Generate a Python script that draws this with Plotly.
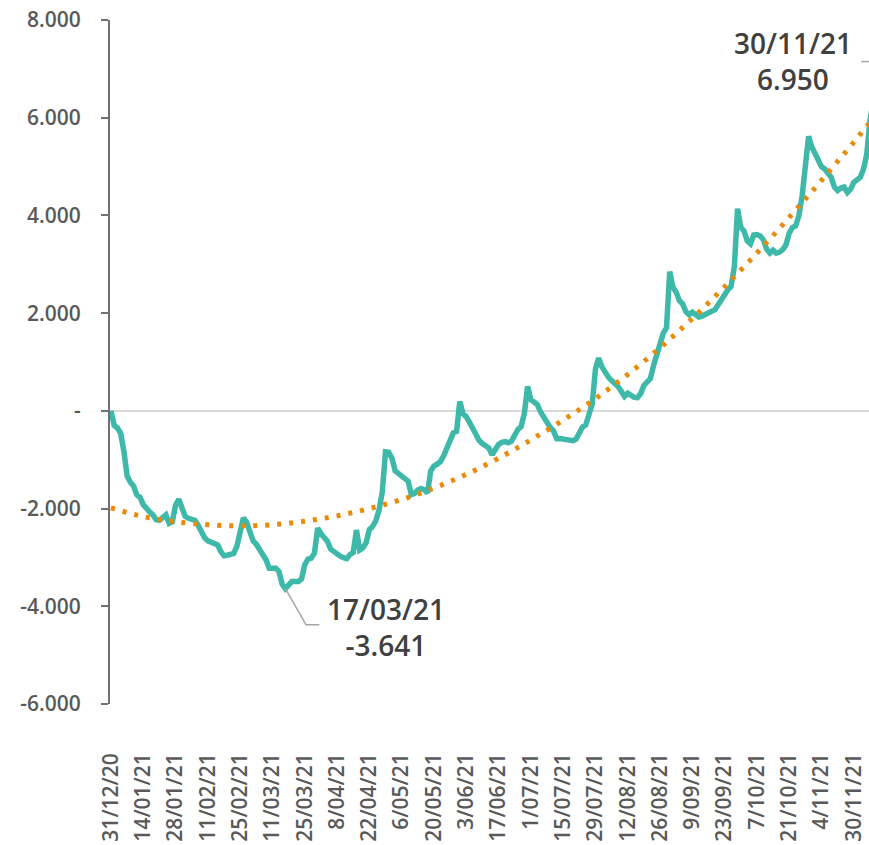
import plotly.graph_objects as go

# ---- data ----
tick_labels = ["31/12/20", "14/01/21", "28/01/21", "11/02/21", "25/02/21", "11/03/21",
               "25/03/21", "8/04/21", "22/04/21", "6/05/21", "20/05/21", "3/06/21",
               "17/06/21", "1/07/21", "15/07/21", "29/07/21", "12/08/21", "26/08/21",
               "9/09/21", "23/09/21", "7/10/21", "21/10/21", "4/11/21", "30/11/21"]

# cumulative series, one value per trading day (index 0 = 31/12/20)
series = [
    0, -300, -350, -460, -830, -1330, -1460, -1540, -1720, -1770,
    -1920, -2020, -2070, -2130, -2230, -2240, -2200, -2130, -2300, -2270,
    -1930, -1810, -1990, -2160, -2200, -2215, -2240, -2345, -2480, -2600,
    -2660, -2696, -2720, -2743, -2880, -2965, -2955, -2945, -2918, -2770,
    -2520, -2190, -2280, -2500, -2660, -2730, -2830, -2940, -3050, -3220,
    -3220, -3220, -3285, -3550, -3641, -3560, -3494, -3494, -3494, -3440,
    -3150, -3035, -3016, -2913, -2401, -2515, -2600, -2670, -2830, -2890,
    -2940, -2975, -3005, -3025, -2940, -2900, -2440, -2850, -2805, -2700,
    -2430, -2370, -2250, -2030, -1660, -840, -850, -970, -1230, -1290,
    -1350, -1405, -1440, -1715, -1690, -1620, -1590, -1617, -1680, -1230,
    -1130, -1090, -1040, -920, -740, -560, -450, -420, 190, -60,
    -120, -235, -380, -525, -610, -670, -715, -760, -900, -790,
    -690, -645, -630, -655, -620, -500, -380, -320, -50, 500,
    230, 180, 130, -20, -140, -250, -340, -410, -570, -565,
    -570, -580, -590, -610, -580, -440, -330, -290, -70, 140,
    850, 1080, 900, 770, 690, 620, 575, 500, 400, 295,
    360, 320, 275, 270, 355, 520, 590, 660, 930, 1160,
    1420, 1590, 1700, 2850, 2530, 2430, 2255, 2190, 2030, 1970,
    2020, 1975, 1920, 1940, 1980, 2005, 2030, 2070, 2170, 2280,
    2390, 2480, 2545, 2950, 4140, 3760, 3680, 3480, 3420, 3600,
    3610, 3580, 3500, 3310, 3230, 3290, 3230, 3250, 3300, 3400,
    3640, 3750, 3785, 4000, 4400, 5150, 5620, 5400, 5260, 5150,
    5000, 4950, 4880, 4780, 4580, 4510, 4560, 4580, 4470, 4540,
    4680, 4720, 4780, 4950, 5250, 5950, 6400, 6700, 6950,
]

# polynomial trend line, read every 10 trading days
trend_values = [-1985, -2165, -2270, -2330, -2355, -2330, -2260, -2150, -2000, -1815,
                -1580, -1300, -970, -595, -190, 250, 745, 1290, 1890, 2540,
                3230, 3960, 4720, 5500, 6320]
trend_step = 10

y_ticks = [-6000, -4000, -2000, 0, 2000, 4000, 6000, 8000]
y_tick_text = ["-6.000", "-4.000", "-2.000", "-", "2.000", "4.000", "6.000", "8.000"]

min_label = ("17/03/21", "-3.641")
last_label = ("30/11/21", "6.950")

# ---- figure ----
x_idx = list(range(len(series)))
trend_x = [i * trend_step for i in range(len(trend_values))]
tick_vals = [i * trend_step for i in range(len(tick_labels))]
min_i = series.index(min(series))

TEAL = "#3DB8A9"
ORANGE = "#EA8A07"
AXIS = "#707070"
FONT = "Open Sans"

fig = go.Figure()
fig.add_trace(go.Scatter(x=x_idx, y=series, mode="lines",
                         line=dict(color=TEAL, width=5.5), hoverinfo="skip"))
fig.add_trace(go.Scatter(x=trend_x, y=trend_values, mode="lines",
                         line=dict(color=ORANGE, width=5, dash="4px,8px", shape="spline"),
                         hoverinfo="skip"))

# leader lines
fig.add_shape(type="path",
              path=f"M {min_i},{series[min_i]} L 60.4,-4380 L 64.5,-4380",
              line=dict(color="#A6A6A6", width=1.5), xref="x", yref="y")
fig.add_shape(type="line", x0=232.3, x1=240, y0=7150, y1=7150,
              line=dict(color="#A6A6A6", width=1.5), xref="x", yref="y")

fig.add_annotation(x=85.2, y=-4420, xref="x", yref="y",
                   text=f"{min_label[0]}<br>{min_label[1]}", showarrow=False,
                   font=dict(family=FONT, size=28, color="#404040", weight=600),
                   align="center")
fig.add_annotation(x=211.3, y=7170, xref="x", yref="y",
                   text=f"{last_label[0]}<br>{last_label[1]}", showarrow=False,
                   font=dict(family=FONT, size=28, color="#404040", weight=600),
                   align="center")

fig.update_layout(
    width=869, height=845,
    margin=dict(l=110, r=0, t=20, b=141, autoexpand=False),
    paper_bgcolor="white", plot_bgcolor="white",
    showlegend=False,
    font=dict(family=FONT, color="#595959", size=21),
)
fig.update_xaxes(range=[-0.3, 234.7], tickvals=tick_vals, ticktext=tick_labels,
                 tickangle=-90, showgrid=False, zeroline=False, showline=False,
                 ticks="", ticklabelstandoff=44, automargin=False,
                 tickfont=dict(family=FONT, size=21, color="#595959", weight=600))
fig.update_yaxes(range=[-6001, 8001], tickvals=y_ticks, ticktext=y_tick_text,
                 showgrid=False, zeroline=True, zerolinecolor="#D9D9D9", zerolinewidth=2,
                 showline=True, linecolor=AXIS, linewidth=2,
                 ticks="outside", ticklen=7, tickwidth=2, tickcolor=AXIS,
                 ticklabelstandoff=16, automargin=False,
                 tickfont=dict(family=FONT, size=21, color="#595959", weight=600))

fig.write_html("out.html",
               config={"displayModeBar": False, "staticPlot": True},
               post_script="document.body.style.margin='0';document.body.style.overflow='hidden';")
